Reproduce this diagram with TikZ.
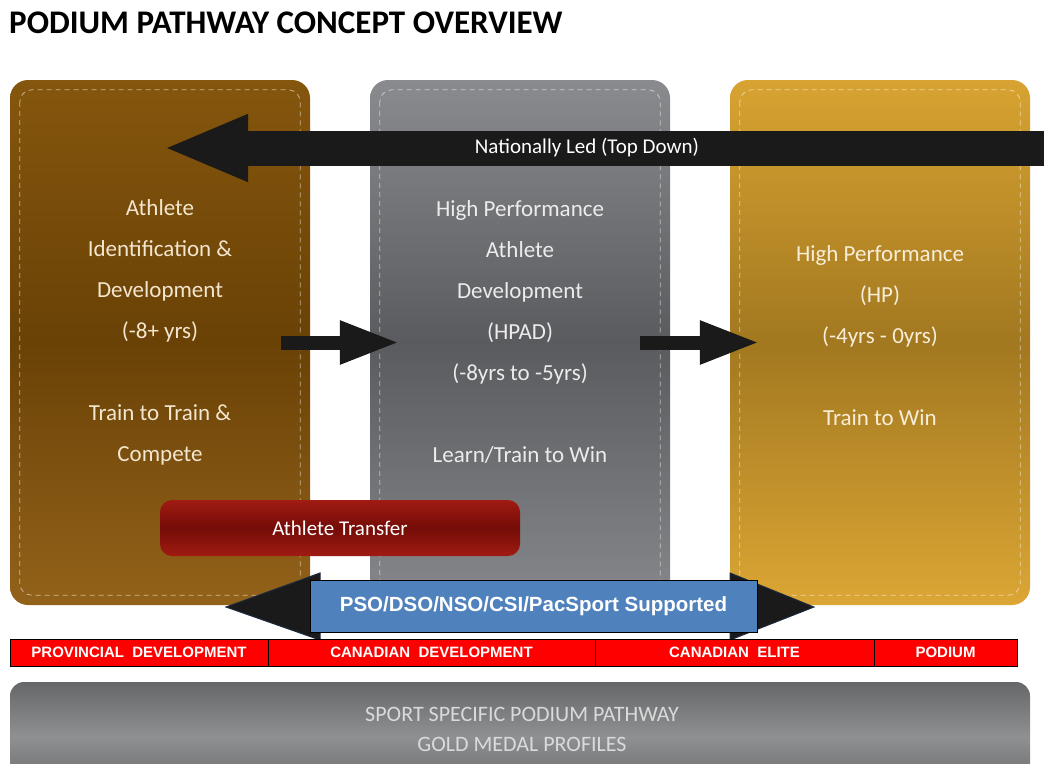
\documentclass[tikz,border=0pt]{standalone}
\usepackage{fontspec}
\setmainfont{Carlito}
\newfontfamily\arialfont{Liberation Sans}
\usepackage{xcolor}
\usetikzlibrary{arrows.meta,positioning}

% colours of the three stages
\definecolor{brownA}{HTML}{85560D}
\definecolor{brownB}{HTML}{6A4206}
\definecolor{brownC}{HTML}{93621A}
\definecolor{grayA}{HTML}{8A8B8E}
\definecolor{grayB}{HTML}{5A5B5E}
\definecolor{grayC}{HTML}{86888B}
\definecolor{goldA}{HTML}{D8A331}
\definecolor{goldB}{HTML}{A27820}
\definecolor{goldC}{HTML}{DBA634}
\definecolor{transA}{HTML}{A01B12}
\definecolor{transB}{HTML}{740C07}
\definecolor{arrowblack}{HTML}{1A1A1A}
\definecolor{headedge}{HTML}{1C2B40}
\definecolor{supblue}{HTML}{4F81BD}
\definecolor{profA}{HTML}{666769}
\definecolor{profB}{HTML}{8F9092}
\definecolor{browntext}{HTML}{F3E6CF}
\definecolor{graytext}{HTML}{ECECEC}
\definecolor{goldtext}{HTML}{F7EDD8}
\definecolor{proftext}{HTML}{DADADA}

\begin{document}
\begin{tikzpicture}[x=1pt,y=-1pt,
  column/.style={rounded corners=18pt,minimum width=300pt,minimum height=525pt,inner sep=0pt},
  stitch/.style={draw=white,opacity=0.55,dash pattern=on 5pt off 4pt,line width=0.8pt,rounded corners=12pt},
  coltext/.style={align=center,font=\fontsize{23}{41}\selectfont},
  fatarrow/.style={draw=arrowblack,line width=14pt,-{Triangle[length=60pt,width=40pt]}},
  band/.style={draw=black,line width=1pt,fill=red,minimum height=27pt,inner sep=0pt,outer sep=0pt,
    text=white,font=\arialfont\bfseries\fontsize{15}{15}\selectfont}
]
% page size
\useasboundingbox (0,0) rectangle (1044,763);
\clip (0,0) rectangle (1044,763);

% title
\node[anchor=west,inner sep=0pt,font=\bfseries\fontsize{33}{33}\selectfont] (title) at (9,23) {PODIUM PATHWAY CONCEPT OVERVIEW};

% the three stage columns
\node[column,top color=brownA,bottom color=brownC,middle color=brownB] (idev) at (160,342.5) {};
\node[column,top color=grayA,bottom color=grayC,middle color=grayB] (hpad) at (520,342.5) {};
\node[column,top color=goldA,bottom color=goldC,middle color=goldB] (hp) at (880,342.5) {};
\foreach \c in {idev,hpad,hp}
  \draw[stitch] ([xshift=10pt,yshift=-10pt]\c.north west) rectangle ([xshift=-10pt,yshift=10pt]\c.south east);

% nationally led arrow across the top
\coordinate (natstart) at (1070,148);
\coordinate (natend) at (163,148);
\draw[draw=arrowblack,line width=35pt,-{Triangle[length=85pt,width=61pt]}] (natstart) -- (natend);
\node[text=white,font=\fontsize{21}{21}\selectfont] (natled) at (587,148) {Nationally Led (Top Down)};

% text in the columns
\node[coltext,text=browntext] (idevtxt) at (160,332) {Athlete\\Identification \&\\Development\\(-8+ yrs)\\[41pt]Train to Train \&\\Compete};
\node[coltext,text=graytext] (hpadtxt) at (520,332) {High Performance\\Athlete\\Development\\(HPAD)\\(-8yrs to -5yrs)\\[41pt]Learn/Train to Win};
\node[coltext,text=goldtext] (hptxt) at (880,336) {High Performance\\(HP)\\(-4yrs - 0yrs)\\[41pt]Train to Win};

% arrows between stages
\draw[fatarrow] ([xshift=-29pt]idev.east) -- ([xshift=30pt]hpad.west);
\draw[fatarrow] ([xshift=-30pt]hpad.east) -- ([xshift=30pt]hp.west);

% athlete transfer
\node[rounded corners=12pt,minimum width=360pt,minimum height=56pt,top color=transA,bottom color=transA,middle color=transB,
  text=white,font=\fontsize{21}{21}\selectfont] (transfer) at (340,528) {Athlete Transfer};

% supported double arrow
\fill[arrowblack,draw=headedge,line width=1pt] (320,573) -- (226,607) -- (320,640) -- cycle;
\fill[arrowblack,draw=headedge,line width=1pt] (730,573) -- (814,607) -- (730,640) -- cycle;
\node[draw=black,line width=1pt,fill=supblue,minimum width=447pt,minimum height=52pt,inner sep=0pt,
  text=white,font=\arialfont\bfseries\fontsize{20.5}{20.5}\selectfont] (support) at (533.5,606) {PSO/DSO/NSO/CSI/PacSport Supported};

% red level band
\node[band,minimum width=258pt,anchor=west] (prov) at (10,652.5) {PROVINCIAL\ \ DEVELOPMENT};
\node[band,minimum width=327pt,right=0pt of prov] (cdev) {CANADIAN\ \ DEVELOPMENT};
\node[band,minimum width=279pt,right=0pt of cdev] (celite) {CANADIAN\ \ ELITE};
\node[band,minimum width=143pt,right=0pt of celite] (podium) {PODIUM};

% bottom bar
\node[rounded corners=14pt,minimum width=1020pt,minimum height=110pt,top color=profA,bottom color=profA,middle color=profB] (profile) at (520,737) {};
\node[align=center,text=proftext,font=\fontsize{22}{30}\selectfont] (proftxt) at (522,729) {SPORT SPECIFIC PODIUM PATHWAY\\GOLD MEDAL PROFILES};
\end{tikzpicture}
\end{document}
